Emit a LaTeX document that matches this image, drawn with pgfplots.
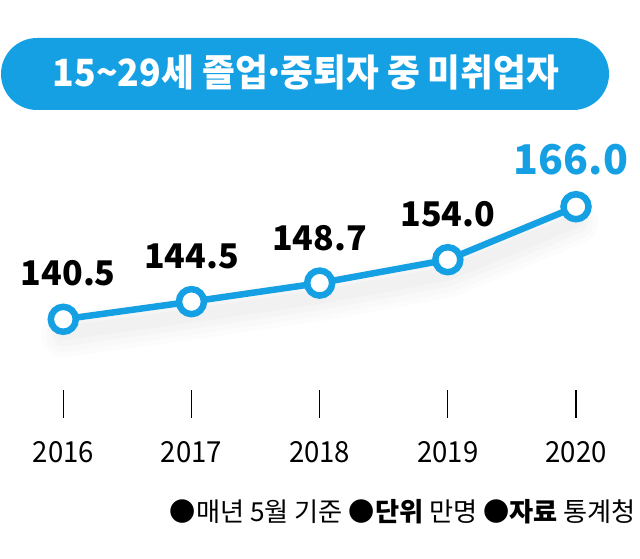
\documentclass[border=0pt]{standalone}
\usepackage{pgfplots}
\pgfplotsset{compat=1.18}
\usepackage{fontspec}
\setmainfont{Noto Sans CJK KR}
\newfontfamily\yearfont{Noto Sans CJK KR}[FakeStretch=0.95]
\newfontfamily\titlefont{Noto Sans CJK KR}[FakeStretch=0.95]
\definecolor{cblue}{RGB}{22,160,228}
\pgfplotstableread{
x y
2016 140.5
2017 144.5
2018 148.7
2019 154.0
2020 166.0
}\datatable
\begin{document}
\begin{tikzpicture}
\useasboundingbox (0pt,0pt) rectangle (640pt,559pt);
\fill[cblue, rounded corners=36pt] (1pt,449pt) rectangle (609pt,521pt);
\node[anchor=base, text=white, inner sep=0pt, font=\titlefont\fontsize{37.5}{44}\selectfont\bfseries] at (306pt,472.3pt) {15\textasciitilde 29세 졸업\kern-0.12em·\kern-0.12em중퇴자 중 미취업자};
\begin{axis}[
  at={(63.3pt,141pt)}, anchor=south west,
  scale only axis, width=512.7pt, height=211.3pt,
  xmin=2016, xmax=2020, ymin=118.15, ymax=166,
  axis x line=bottom, axis y line=none,
  x axis line style={draw=none},
  xtick={2016,2017,2018,2019,2020},
  xticklabels={2016,2017,2018,2019,2020},
  tick align=inside, major tick length=28pt,
  x tick style={black, line width=1.3pt},
  xticklabel style={anchor=base, yshift=-45pt, inner sep=0pt, font=\yearfont\fontsize{29}{34}\selectfont},
  clip=false,
]
% soft shadow under the line
\addplot[black, opacity=0.010, line width=44pt, yshift=-16pt, mark=none, line cap=round, line join=round] table[x=x,y=y] {\datatable};
\addplot[black, opacity=0.012, line width=34pt, yshift=-16pt, mark=none, line cap=round, line join=round] table[x=x,y=y] {\datatable};
\addplot[black, opacity=0.014, line width=24pt, yshift=-15pt, mark=none, line cap=round, line join=round] table[x=x,y=y] {\datatable};
\addplot[black, opacity=0.016, line width=14pt, yshift=-14pt, mark=none, line cap=round, line join=round] table[x=x,y=y] {\datatable};
\addplot[cblue, line width=6.5pt, mark=*, mark size=12.5pt,
  mark options={fill=white, draw=cblue, line width=6.5pt}]
  table[x=x,y=y] {\datatable};
\addplot[draw=none, mark=none, nodes near coords, point meta=explicit symbolic,
  nodes near coords style={anchor=base, yshift=34pt, xshift=5pt, inner sep=0pt, text=black,
  font=\fontsize{34}{40}\selectfont\bfseries}]
  coordinates {(2016,140.5)[140.5]};
\addplot[draw=none, mark=none, nodes near coords, point meta=explicit symbolic,
  nodes near coords style={anchor=base, yshift=33pt, inner sep=0pt, text=black,
  font=\fontsize{34}{40}\selectfont\bfseries}]
  coordinates {(2017,144.5)[144.5] (2018,148.7)[148.7] (2019,154.0)[154.0]};
\addplot[draw=none, mark=none, nodes near coords, point meta=explicit symbolic,
  nodes near coords style={anchor=base, yshift=32pt, xshift=-5pt, inner sep=0pt, text=cblue,
  font=\fontsize{41}{48}\selectfont\bfseries}]
  coordinates {(2020,166.0)[166.0]};
\end{axis}
\node[anchor=base east, inner sep=0pt, font=\fontsize{26.2}{30}\selectfont] at (636pt,37.3pt)
  {●매년 5월 기준 ●\textbf{단위} 만명 ●\textbf{자료} 통계청};
\end{tikzpicture}
\end{document}
